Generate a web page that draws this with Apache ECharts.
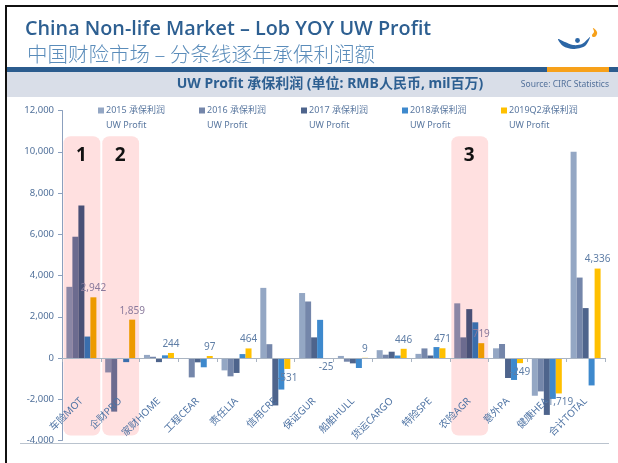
<!DOCTYPE html>
<html>
<head>
<meta charset="utf-8">
<script src="https://cdn.jsdelivr.net/npm/echarts@6/dist/echarts.min.js"></script>
<style>html,body{margin:0;padding:0;background:#fff;}#c{width:618px;height:463px;}</style>
</head>
<body>
<div id="c"></div>
<script>
// ---- data ----
const categories = ['车险MOT','企财PRO','家财HOME','工程CEAR','责任LIA','信用CRE','保证GUR','船舶HULL','货运CARGO','特险SPE','农险AGR','意外PA','健康HEA','合计TOTAL'];
const seriesNames = ['2015 承保利润','2016 承保利润','2017 承保利润','2018承保利润','2019Q2承保利润'];
const v2015 = [3450, -700, 150, -30, -600, 3400, 3150, 100, 380, 200, 2650, 470, -1830, 10000];
const v2016 = [5880, -2600, 60, -940, -890, 670, 2740, -180, 160, 465, 1000, 680, -1620, 3900];
const v2017 = [7400, 0, -200, -210, -725, -2300, 1000, -260, 305, 120, 2370, -970, -2760, 2420];
const v2018 = [1040, -200, 130, -450, 190, -1530, 1850, -485, 120, 530, 1730, -1065, -1985, -1330];
const v2019 = [2942, 1859, 244, 97, 464, -531, -25, 9, 446, 471, 719, -249, -1719, 4336];
const highlightIdx = [0, 1, 10];
const highlightLabels = ['1', '2', '3'];
const yMin = -4000, yMax = 12000, yStep = 2000;

const colors = ['#94A7C4', '#7486AA', '#4E648C', '#3E89CD', '#FFC000'];
const FONT = "'Noto Sans', 'Noto Sans CJK SC', sans-serif";
const fmt = v => Number(v).toLocaleString('en-US');
// colour as seen through the pink highlight
function tint(hex) {
  const n = parseInt(hex.slice(1), 16);
  const r = (n >> 16) & 255, g = (n >> 8) & 255, b = n & 255;
  return 'rgb(' + Math.round(r * 0.93) + ',' + Math.round(g * 0.8) + ',' + Math.round(b * 0.84) + ')';
}

const chart = echarts.init(document.getElementById('c'), null, {renderer: 'canvas'});

const allVals = [v2015, v2016, v2017, v2018, v2019];
const series = allVals.map((arr, i) => ({
  name: seriesNames[i], type: 'bar', barWidth: 6, barGap: '0%',
  itemStyle: {color: colors[i]}, z: 2,
  data: arr.map((v, k) => {
    const d = {value: v};
    if (highlightIdx.indexOf(k) >= 0) d.itemStyle = {color: tint(colors[i])};
    if (i === 4) d.label = {position: v < 0 ? 'bottom' : 'top', color: highlightIdx.indexOf(k) >= 0 ? '#8A7A9C' : '#5F7EA6'};
    return d;
  }),
  label: i === 4 ? {show: true, distance: 4, color: '#5F7EA6', fontSize: 10, fontFamily: FONT,
          formatter: p => fmt(p.value)} : {show: false}
}));
series.push({
  type: 'custom', z: 1, silent: true,
  data: highlightIdx.map(i => [i]),
  encode: {x: 0},
  renderItem: function (params, api) {
    const idx = api.value(0);
    const top = api.coord([idx, 10750]);
    const bot = api.coord([idx, -3760]);
    const w = api.size([1, 0])[0];
    return {
      type: 'group',
      children: [
        {type: 'rect', shape: {x: top[0] - w / 2 + 1.5, y: top[1], width: w - 2, height: bot[1] - top[1], r: 7},
         style: {fill: '#FFE0E0'}},
        {type: 'text', style: {text: highlightLabels[params.dataIndex], x: top[0], y: top[1] + 19,
          align: 'center', verticalAlign: 'middle', fill: '#111', font: "bold 19px 'Noto Sans', sans-serif"}}
      ]
    };
  }
});

const legendLeft = [98, 199, 301, 402, 501];
const legends = seriesNames.map((n, i) => ({
  data: [n], left: legendLeft[i], top: 106, itemWidth: 6, itemHeight: 6, icon: 'rect',
  selectedMode: false, padding: 0,
  textStyle: {fontSize: 9, color: '#5A78A0', fontFamily: FONT, padding: [0, 0, 0, -3]}
}));

const graphics = [
  // frame
  {type: 'rect', shape: {x: 5, y: 5, width: 613, height: 2}, style: {fill: '#111'}},
  {type: 'rect', shape: {x: 5, y: 5, width: 2, height: 458}, style: {fill: '#111'}},
  // titles
  {type: 'text', style: {text: 'China Non-life Market – Lob YOY UW Profit', x: 25, y: 29, verticalAlign: 'middle',
    fill: '#2D5F91', font: "600 19.8px 'Open Sans', 'Noto Sans', sans-serif"}},
  {type: 'text', style: {text: '中国财险市场 – 分条线逐年承保利润额', x: 27, y: 54, verticalAlign: 'middle',
    fill: '#5A8CBA', font: "300 20.5px 'Noto Sans CJK SC', sans-serif"}},
  // bars under title
  {type: 'rect', shape: {x: 7, y: 67, width: 611, height: 5}, style: {fill: '#2B5C8E'}},
  {type: 'rect', shape: {x: 547, y: 67, width: 62, height: 5}, style: {fill: '#F7A11A'}},
  {type: 'rect', shape: {x: 7, y: 72, width: 611, height: 25}, style: {fill: '#D9DEE8'}},
  {type: 'text', style: {text: 'UW Profit 承保利润 (单位: RMB人民币, mil百万)', x: 330, y: 84, align: 'center', verticalAlign: 'middle',
    fill: '#2D5F91', font: "bold 14px 'Noto Sans', 'Noto Sans CJK SC', sans-serif"}},
  {type: 'text', style: {text: 'Source: CIRC Statistics', x: 609, y: 85, align: 'right', verticalAlign: 'middle',
    fill: '#52709A', font: "8.5px 'Noto Sans', sans-serif"}},
  // logo
  {type: 'polygon', shape: {points: [[558,39],[565,42],[573,45],[582,44],[590,37],[585,46],[573,49],[563,46]], smooth: 0.3},
   style: {fill: '#2B66A6'}},
  {type: 'circle', shape: {cx: 577.5, cy: 40.5, r: 2.4}, style: {fill: '#2B66A6'}},
  {type: 'polygon', shape: {points: [[593,28],[597,32],[596,36],[593,37],[592,35],[594,32]], smooth: 0.4},
   style: {fill: '#F7A11A'}},
  // bottom line
  {type: 'rect', shape: {x: 20, y: 443, width: 589, height: 1}, style: {fill: '#BAC3CE'}}
];
legendLeft.forEach(x => graphics.push({type: 'text', style: {text: 'UW Profit', x: x + 8, y: 125, verticalAlign: 'middle',
  fill: '#5A78A0', font: "9px 'Noto Sans', sans-serif"}}));

chart.setOption({
  animation: false,
  color: colors,
  grid: {left: 62, right: 13, top: 110.5, bottom: 22.5, containLabel: false, outerBoundsMode: 'none'},
  legend: legends,
  xAxis: {
    type: 'category', data: categories, z: 4,
    axisLine: {onZero: true, lineStyle: {color: '#A9B4C2', width: 1}},
    axisTick: {show: true, length: 4, lineStyle: {color: '#A9B4C2'}},
    axisLabel: {rotate: 45, margin: -41, fontSize: 10, color: '#4D72A3', fontFamily: FONT, interval: 0}
  },
  yAxis: {
    type: 'value', min: yMin, max: yMax, interval: yStep, z: 4,
    axisLine: {show: true, lineStyle: {color: '#8CA0BE'}},
    axisTick: {show: true, inside: false, length: 4, lineStyle: {color: '#8CA0BE'}},
    splitLine: {show: false},
    axisLabel: {fontSize: 9.5, color: '#50709A', fontFamily: FONT, margin: 8, formatter: v => fmt(v)}
  },
  graphic: graphics,
  series: series
});
</script>
</body>
</html>
